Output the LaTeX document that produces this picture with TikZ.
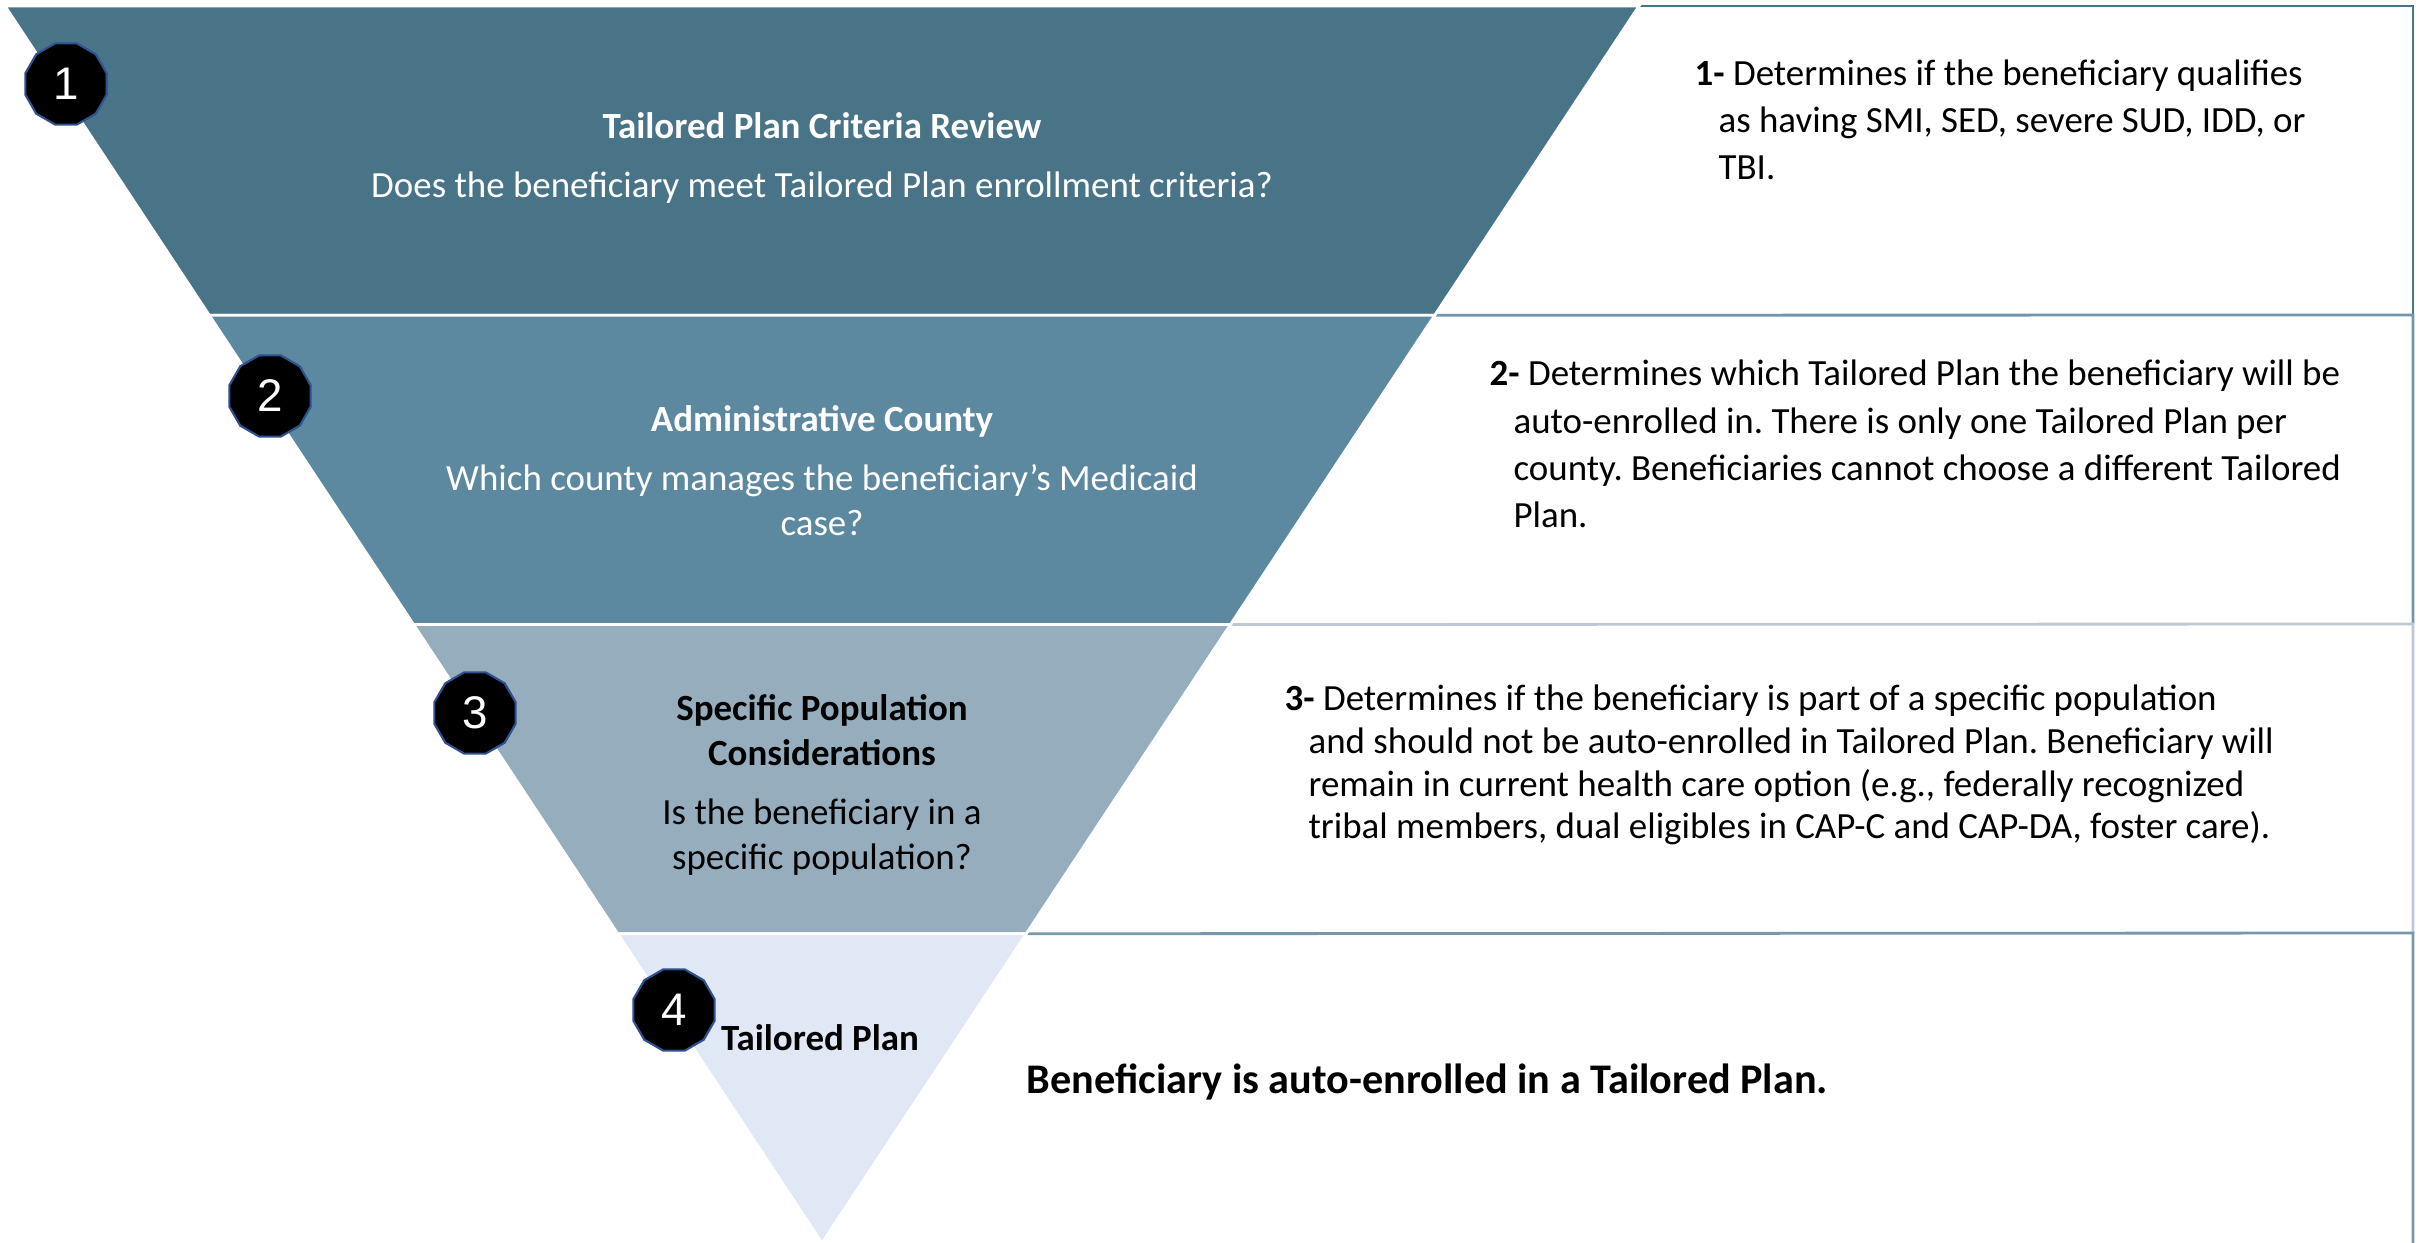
\documentclass[tikz,border=0pt]{standalone}
\usepackage{fontspec}
\setmainfont{Carlito}
\newfontfamily\numfont{Liberation Sans}
\frenchspacing
\usetikzlibrary{calc,shapes.geometric}
\definecolor{bandA}{RGB}{73,116,135}
\definecolor{bandB}{RGB}{92,136,160}
\definecolor{bandC}{RGB}{150,173,189}
\definecolor{bandD}{RGB}{224,232,245}
\definecolor{lineB}{RGB}{110,149,172}
\definecolor{lineC}{RGB}{186,201,213}
\definecolor{lineD}{RGB}{120,151,173}
\definecolor{ringblue}{RGB}{47,82,143}
\begin{document}
\begin{tikzpicture}[x=0.01cm,y=-0.01cm,
    band/.style={draw=white,line width=0.8pt},
    boxline/.style={line width=0.8pt},
    badge/.style={regular polygon,regular polygon sides=12,minimum size=0.84cm,inner sep=0pt,
      fill=black,draw=ringblue,line width=0.6pt,text=white,font=\numfont\fontsize{13}{13}\selectfont},
    stage/.style={align=center,inner sep=0pt,font=\fontsize{10.5}{12.8}\selectfont},
    info/.style={anchor=west,align=left,inner sep=0pt,font=\fontsize{10.5}{13.4}\selectfont}]
  \useasboundingbox (0,0) rectangle (2420,1243);
  \coordinate (L) at (5,6);
  \coordinate (R) at (1639,6);
  \coordinate (A) at (822,1243);
  \coordinate (r1) at ($(R)!0.25!(A)$);
  \coordinate (r2) at ($(R)!0.5!(A)$);
  \coordinate (r3) at ($(R)!0.75!(A)$);
  % boxes on the right
  \draw[boxline,bandA] (R) -- (2413,6) -- (2413,315);
  \draw[boxline,lineB] (r1) -- (2413,315) -- (2413,624);
  \draw[boxline,lineC] (r2) -- (2413,624) -- (2413,933);
  \draw[boxline,lineD] (r3) -- (2413,933) -- (2413,1243);
  % funnel
  \foreach \i/\c in {0/bandA,1/bandB,2/bandC,3/bandD}
    \filldraw[band,fill=\c] ($(L)!\i/4!(A)$) -- ($(R)!\i/4!(A)$) -- ($(R)!\i/4+0.25!(A)$) -- ($(L)!\i/4+0.25!(A)$) -- cycle;
  \node[stage,text=white] (s1) at (822,158) {\textbf{Tailored Plan Criteria Review}\\[4pt]
    Does the beneficiary meet Tailored Plan enrollment criteria?};
  \node[stage,text=white] (s2) at (822,471) {\textbf{Administrative County}\\[4pt]
    Which county manages the beneficiary's Medicaid\\ case?};
  \node[stage] (s3) at (822,785) {\textbf{Specific Population}\\ \textbf{Considerations}\\[4pt]
    Is the beneficiary in a\\ specific population?};
  \node[stage] (s4) at (820,1038) {\textbf{Tailored Plan}};
  % numbers
  \node[badge] (c1) at (66,84) {1};
  \node[badge] (c2) at (270,396) {2};
  \node[badge] (c3) at (475,713) {3};
  \node[badge] (c4) at (674,1010) {4};
  % explanations
  \node[info] (d1) at (1694,120) {\textbf{1-} Determines if the beneficiary qualifies\\
    \hspace*{6.8pt}as having SMI, SED, severe SUD, IDD, or\\ \hspace*{6.8pt}TBI.};
  \node[info] (d2) at (1489,444) {\textbf{2-} Determines which Tailored Plan the beneficiary will be\\
    \hspace*{6.8pt}auto-enrolled in. There is only one Tailored Plan per\\
    \hspace*{6.8pt}county. Beneficiaries cannot choose a different Tailored\\ \hspace*{6.8pt}Plan.};
  \node[info,font=\fontsize{10.5}{12.2}\selectfont] (d3) at (1284,765) {\textbf{3-} Determines if the beneficiary is part of a specific population\\
    \hspace*{6.8pt}and should not be auto-enrolled in Tailored Plan. Beneficiary will\\
    \hspace*{6.8pt}remain in current health care option (e.g., federally recognized\\
    \hspace*{6.8pt}tribal members, dual eligibles in CAP-C and CAP-DA, foster care).};
  \node[info,font=\bfseries\fontsize{12}{14}\selectfont] (d4) at (1026,1082) {Beneficiary is auto-enrolled in a Tailored Plan.};
\end{tikzpicture}
\end{document}
